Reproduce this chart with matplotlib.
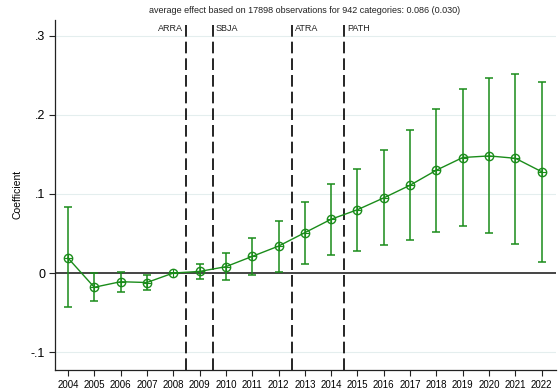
import matplotlib.pyplot as plt
import numpy as np

plt.rcParams['font.family'] = ['Liberation Sans', 'DejaVu Sans']

# Event-study coefficients by year with confidence bounds
years = [2004, 2005, 2006, 2007, 2008, 2009, 2010, 2011, 2012, 2013,
         2014, 2015, 2016, 2017, 2018, 2019, 2020, 2021, 2022]
coef = [0.019, -0.018, -0.011, -0.012, 0.0, 0.002, 0.008, 0.021, 0.034, 0.051,
        0.068, 0.080, 0.095, 0.111, 0.130, 0.146, 0.148, 0.145, 0.128]
ci_low = [-0.043, -0.035, -0.024, -0.021, 0.0, -0.008, -0.009, -0.003, 0.001, 0.012,
          0.023, 0.028, 0.036, 0.042, 0.052, 0.059, 0.050, 0.037, 0.0145]
ci_high = [0.083, 0.0, 0.001, -0.003, 0.0, 0.012, 0.025, 0.044, 0.066, 0.090,
           0.113, 0.132, 0.156, 0.181, 0.207, 0.233, 0.246, 0.252, 0.242]

# Policy events
events = ['ARRA', 'SBJA', 'ATRA', 'PATH']
event_x = [2008.5, 2009.5, 2012.5, 2014.5]

yticks = [-0.1, 0, 0.1, 0.2, 0.3]
ytick_labels = ['-.1', '0', '.1', '.2', '.3']

title = 'average effect based on 17898 observations for 942 categories: 0.086 (0.030)'

green = '#1a8c1a'

fig = plt.figure(figsize=(5.59, 3.89), dpi=100)
ax = fig.add_axes([0.098, 0.049, 0.897, 0.9])

# Gridlines and zero line
for yt in yticks:
    if yt != 0:
        ax.axhline(yt, color='#e4eeee', lw=0.8, zorder=0)
ax.axhline(0, color='#444444', lw=1.4, zorder=1)

# Event lines
for ex, name in zip(event_x, events):
    ax.axvline(ex, color='black', lw=1.2, ls=(0, (7, 3)), zorder=2)
    if name == 'ARRA':
        ax.text(ex - 0.12, 0.309, name, ha='right', va='center', fontsize=6.5, color='#222222')
    else:
        ax.text(ex + 0.12, 0.309, name, ha='left', va='center', fontsize=6.5, color='#222222')

coef = np.array(coef)
lo = coef - np.array(ci_low)
hi = np.array(ci_high) - coef
ax.errorbar(years, coef, yerr=[lo, hi], fmt='none', ecolor=green, elinewidth=1.1,
            capsize=3, capthick=1.1, zorder=3)
ax.plot(years, coef, color=green, lw=1.0, zorder=4)
ax.plot(years, coef, 'o', ms=6, mfc='none', mec=green, mew=1.0, zorder=5)
ax.plot(years, coef, '+', ms=6, mec=green, mew=0.8, zorder=5)

ax.set_xlim(2003.5, 2022.55)
ax.set_ylim(-0.1225, 0.32)
ax.set_xticks(years)
ax.set_xticklabels([str(y) for y in years], fontsize=7)
ax.set_yticks(yticks)
ax.set_yticklabels(ytick_labels, fontsize=9)
ax.tick_params(axis='both', direction='out', length=4, width=0.8, color='#222222')
ax.tick_params(axis='y', pad=3)
ax.set_ylabel('Coefficient', fontsize=7.5, labelpad=6)

for s in ['top', 'right']:
    ax.spines[s].set_visible(False)
for s in ['left', 'bottom']:
    ax.spines[s].set_linewidth(0.9)
    ax.spines[s].set_color('#222222')

fig.text(0.545, 0.972, title, ha='center', va='center', fontsize=6.5, color='#222222')

fig.savefig('out.png', dpi=100)
